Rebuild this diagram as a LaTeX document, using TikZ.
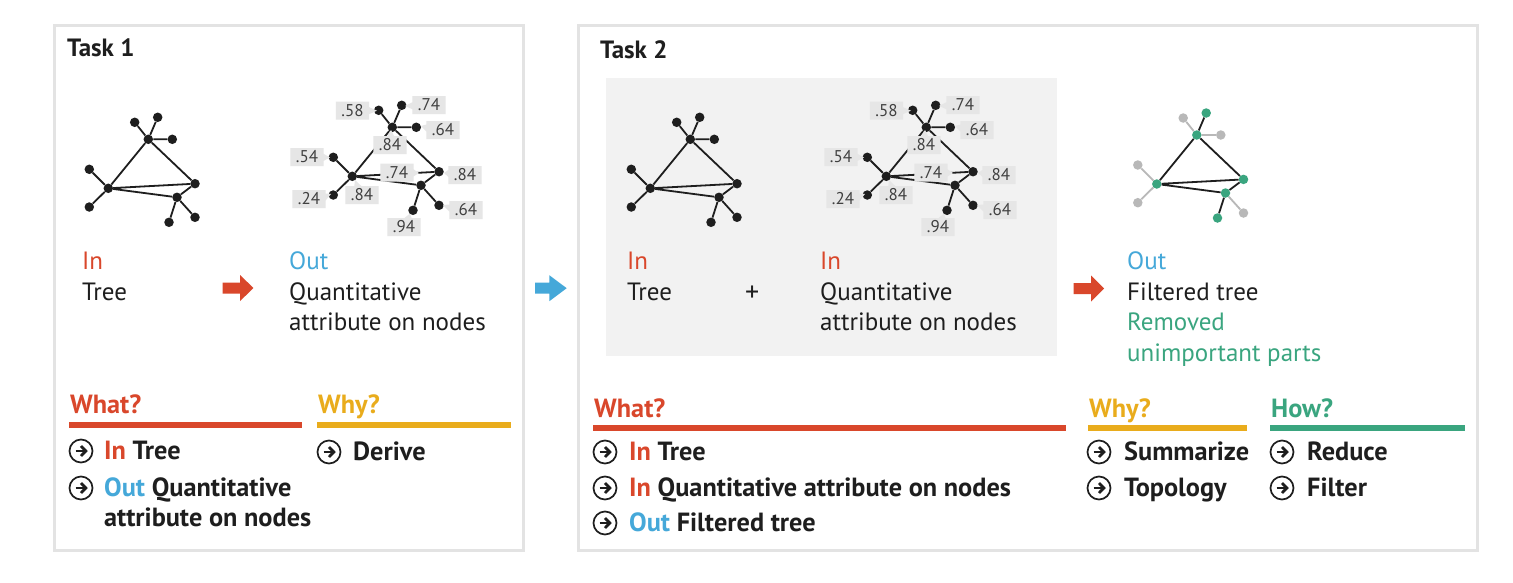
\documentclass[tikz,border=0pt]{standalone}
\usepackage{fontspec}
\setmainfont{PT Sans}
\usetikzlibrary{shapes.callouts}
\definecolor{cred}{HTML}{D9472B}
\definecolor{cblue}{HTML}{45A8D9}
\definecolor{cyel}{HTML}{E9AC1C}
\definecolor{cgreen}{HTML}{3AA57F}
\definecolor{cframe}{HTML}{E3E3E3}
\definecolor{cshade}{HTML}{F2F2F2}
\definecolor{clbl}{HTML}{E6E6E6}
\definecolor{cgray}{HTML}{B8B8B8}
\definecolor{ctext}{HTML}{1E1E1E}
\newcommand\mytree[6]{%
  \begin{scope}[shift={#2}]
    \node[#3] (#1T) at (148.3,139.3) {};
    \node[#4] (#1Ta) at (134.7,122.3) {};
    \node[#3] (#1Tb) at (157.7,117.3) {};
    \node[#4] (#1Tc) at (172.3,139.3) {};
    \node[#3] (#1L) at (108.3,188.3) {};
    \node[#4] (#1La) at (89.3,169.3) {};
    \node[#4] (#1Lb) at (89.3,207) {};
    \node[#3] (#1R) at (195,183.7) {};
    \node[#3] (#1B) at (177,197.3) {};
    \node[#3] (#1Ba) at (169,222.3) {};
    \node[#4] (#1Bb) at (195,217.3) {};
    \draw[#6] (#1T)--(#1Ta) (#1T)--(#1Tc) (#1L)--(#1La) (#1L)--(#1Lb) (#1B)--(#1Bb);
    \draw[#5] (#1T)--(#1L) (#1T)--(#1R) (#1L)--(#1R) (#1L)--(#1B) (#1R)--(#1B) (#1T)--(#1Tb) (#1B)--(#1Ba);
  \end{scope}}
\newcommand\attrlabels[2]{%
  \node[lbl,callout absolute pointer={({377+#2},110.7)}] (#1a) at ({352.5+#2},110.5) {.58};
  \node[lbl,callout absolute pointer={({405+#2},106)}] (#1b) at ({429+#2},105) {.74};
  \node[lbl,callout absolute pointer={({421+#2},126)}] (#1c) at ({443+#2},130) {.64};
  \node[lbl,callout absolute pointer={({391+#2},130)}] (#1d) at ({390+#2},145) {.84};
  \node[lbl,callout absolute pointer={({330+#2},157.5)}] (#1e) at ({307+#2},157) {.54};
  \node[lbl,callout absolute pointer={({331+#2},194)}] (#1f) at ({309+#2},199) {.24};
  \node[lbl,callout absolute pointer={({355+#2},180)}] (#1g) at ({362+#2},195) {.84};
  \node[lbl,callout absolute pointer={({419+#2},173)}] (#1h) at ({397+#2},172.5) {.74};
  \node[lbl,callout absolute pointer={({444+#2},173)}] (#1i) at ({465+#2},175) {.84};
  \node[lbl,callout absolute pointer={({443+#2},205)}] (#1j) at ({466+#2},210) {.64};
  \node[lbl,callout absolute pointer={({410+#2},213.5)}] (#1k) at ({404+#2},227) {.94};}
\newcommand\fatarrow[4]{\fill[#1,shift={#2}] (0,-5.5) -- (#3,-5.5) -- (#3,-13) -- (#4,0) -- (#3,13) -- (#3,5.5) -- (0,5.5) -- cycle;}
\tikzset{cicon/.pic={
    \draw[line width=1.7,ctext,fill=white] (0,0) circle (11.5);
    \draw[line width=2.8,ctext] (-5.5,0)--(3.5,0);
    \draw[line width=2.8,ctext,miter limit=10] (0,-5)--(4.8,0)--(0,5);}}
\begin{document}
\begin{tikzpicture}[x=1pt,y=-1pt,
  dot/.style={circle,fill=ctext,inner sep=0,minimum size=9.5},
  gdot/.style={circle,fill=cgreen,inner sep=0,minimum size=9.5},
  ldot/.style={circle,fill=cgray,inner sep=0,minimum size=9.5},
  edge/.style={draw=ctext,line width=1.8},
  ledge/.style={draw=cgray,line width=1.8},
  frame/.style={draw=cframe,line width=3},
  txt/.style={anchor=base west,inner sep=0,font=\fontsize{25}{30}\selectfont,text=ctext},
  btxt/.style={anchor=base west,inner sep=0,font=\fontsize{26.3}{30}\selectfont\bfseries,text=ctext},
  ttl/.style={anchor=base west,inner sep=0,font=\fontsize{25}{28}\selectfont\bfseries,text=ctext},
  lbl/.style={rectangle callout,fill=clbl,inner xsep=5.5,inner ysep=3.5,text height=11,text depth=0,
    font=\fontsize{17}{20}\selectfont,text=ctext!85,callout pointer width=7},
  bar/.style={line width=5.5},
]
\useasboundingbox (0,0) rectangle (1513,582);
\fill[white] (0,0) rectangle (1513,582);
% frames
\draw[frame] (54,25) rectangle (523,550);
\draw[frame] (578,25) rectangle (1477,550);
\fill[cshade] (606,78) rectangle (1057,356);
% titles
\node[ttl] (t1) at (67,56) {Task 1};
\node[ttl] (t2) at (600,58) {Task 2};
% Task 1 trees
\mytree{a}{(0,0)}{dot}{dot}{edge}{edge}
\mytree{b}{(244,-12)}{dot}{dot}{edge}{edge}
\attrlabels{la}{0}
% Task 2 trees
\mytree{c}{(542,0)}{dot}{dot}{edge}{edge}
\mytree{d}{(778,-12)}{dot}{dot}{edge}{edge}
\attrlabels{lb}{534}
\mytree{e}{(1048.5,-4.3)}{gdot}{ldot}{edge}{ledge}
% arrows
\fatarrow{cred}{(222.7,288)}{17.5}{30.6}
\fatarrow{cblue}{(535,288.2)}{14.3}{31.7}
\fatarrow{cred}{(1073.5,288.5)}{17.5}{30.6}
% Task 1 texts
\node[txt,text=cred] (in1) at (82,269) {In};
\node[txt] (tree1) at (82,300) {Tree};
\node[txt,text=cblue] (out1) at (289,269) {Out};
\node[txt] (q1) at (289,300) {Quantitative};
\node[txt] (a1) at (289,330) {attribute on nodes};
% Task 2 texts
\node[txt,text=cred] (in2) at (627,269) {In};
\node[txt] (tree2) at (627,300) {Tree};
\node[txt,font=\fontsize{28}{30}\selectfont] (plus) at (745,301) {+};
\node[txt,text=cred] (in3) at (820,269) {In};
\node[txt] (q2) at (820,300) {Quantitative};
\node[txt] (a2) at (820,330) {attribute on nodes};
\node[txt,text=cblue] (out2) at (1127,269) {Out};
\node[txt] (ft) at (1127,300) {Filtered tree};
\node[txt,text=cgreen] (rm) at (1127,330) {Removed};
\node[txt,text=cgreen] (up) at (1127,361) {unimportant parts};
% Task 1 bottom
\node[btxt,text=cred] (what1) at (70,413) {What?};
\draw[bar,cred] (69,425) -- (302,425);
\node[btxt,text=cyel] (why1) at (318,413) {Why?};
\draw[bar,cyel] (317,425) -- (511,425);
\pic at (81,451) {cicon};
\node[btxt] (w1a) at (104,459) {\textcolor{cred}{In} Tree};
\pic at (81,488) {cicon};
\node[btxt] (w1b) at (104,496) {\textcolor{cblue}{Out} Quantitative};
\node[btxt] (w1c) at (104,526) {attribute on nodes};
\pic at (329,452) {cicon};
\node[btxt] (y1a) at (353,460) {Derive};
% Task 2 bottom
\node[btxt,text=cred] (what2) at (594,417) {What?};
\draw[bar,cred] (593,428) -- (1066,428);
\node[btxt,text=cyel] (why2) at (1089,417) {Why?};
\draw[bar,cyel] (1088,428) -- (1247,428);
\node[btxt,text=cgreen] (how2) at (1271,417) {How?};
\draw[bar,cgreen] (1270,428) -- (1465,428);
\pic at (605,452) {cicon};
\node[btxt] (w2a) at (629,460) {\textcolor{cred}{In} Tree};
\pic at (605,488) {cicon};
\node[btxt] (w2b) at (629,496) {\textcolor{cred}{In} Quantitative attribute on nodes};
\pic at (605,523) {cicon};
\node[btxt] (w2c) at (629,531) {\textcolor{cblue}{Out} Filtered tree};
\pic at (1099,452) {cicon};
\node[btxt] (y2a) at (1124,460) {Summarize};
\pic at (1099,488) {cicon};
\node[btxt] (y2b) at (1124,496) {Topology};
\pic at (1282,452) {cicon};
\node[btxt] (h2a) at (1307,460) {Reduce};
\pic at (1282,488) {cicon};
\node[btxt] (h2b) at (1307,496) {Filter};
\end{tikzpicture}
\end{document}
